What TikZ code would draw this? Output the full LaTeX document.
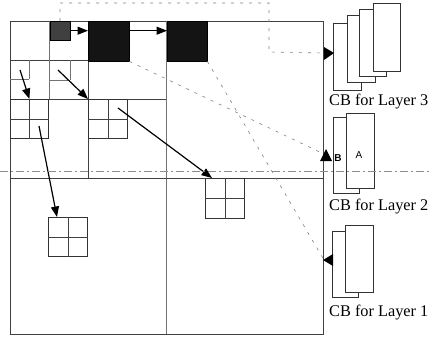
\documentclass[tikz,border=0pt]{standalone}
\usepackage{fontspec}
\setmainfont{Liberation Serif}
\newfontfamily\sansf{Liberation Sans}
\usetikzlibrary{arrows.meta,calc}
\begin{document}
\begin{tikzpicture}[x=1pt,y=-1pt,
  grid/.style={draw=black!75, line width=0.8pt},
  lightgrid/.style={draw=black!55, line width=0.7pt},
  faint/.style={draw=black!50, line width=0.6pt, dash pattern=on 3pt off 6pt},
  scanline/.style={draw=black!45, line width=0.6pt, dash pattern=on 8pt off 3pt on 2pt off 3pt},
  link/.style={draw=black, line width=1.2pt, -{Triangle[length=10.5pt,width=8pt]}},
  blk/.style={draw=black!80, line width=0.8pt, inner sep=0pt, minimum width=39pt, minimum height=39pt},
  dark/.style={fill=black!92, draw=black, inner sep=0pt},
  page/.style={draw=black!80, fill=white, line width=0.7pt},
  head/.style={fill=black, draw=none},
  lbl/.style={anchor=west, font=\fontsize{16.3}{18}\selectfont, inner sep=0pt},
  letter/.style={font=\sansf\fontsize{10}{11}\selectfont, inner sep=0pt}
]
\useasboundingbox (0,0) rectangle (431,338);

% outer frame and quadtree grid
\draw[grid] (10,21) rectangle (323,334);
\draw[lightgrid] (166,21) -- (166,334);
\draw[grid] (10,178) -- (323,178);
\draw[grid] (88,21) -- (88,178);
\draw[grid] (10,99) -- (166,99);
\draw[grid] (10,60) -- (88,60);
\draw[lightgrid] (49,21) -- (49,99);
\draw[lightgrid] (10,79) -- (29,79) (29,60) -- (29,79);
\draw[lightgrid] (49,80) -- (70,80) (70,60) -- (70,80);

% dark blocks
\node[dark, fill=black!75, minimum width=20pt, minimum height=19pt, anchor=north west] (d1) at (50,21) {};
\node[dark, minimum width=41pt, minimum height=40pt, anchor=north west] (d2) at (88,21) {};
\node[dark, minimum width=40pt, minimum height=40pt, anchor=north west] (d3) at (167,21) {};

% 2x2 child blocks
\node[blk, anchor=north west, minimum width=38pt] (b1) at (10,99) {};
\draw[grid] (b1.north) -- (b1.south) (b1.west) -- (b1.east);
\node[blk, anchor=north west] (b2) at (88,99) {};
\draw[grid] (b2.north) -- (b2.south) (b2.west) -- (b2.east);
\node[blk, anchor=north west, minimum height=40pt] (b3) at (205,178) {};
\draw[grid] (b3.north) -- (b3.south) (b3.west) -- (b3.east);
\node[blk, anchor=north west] (b4) at (48,217) {};
\draw[grid] (b4.north) -- (b4.south) (b4.west) -- (b4.east);

% arrow start points
\coordinate (s1) at (20,70);
\coordinate (s2) at (58,70);
\coordinate (s3) at (118,108);
\coordinate (s4) at (39,126);

\draw[link] (d1.east) -- (d2.west |- d1.east);
\draw[link] (d2.east |- d1.east) -- (d3.west |- d1.east);
\draw[link] (s1) -- (b1.north);
\draw[link] (s2) -- (b2.north west);
\draw[link] (s3) -- ($(b3.north west)+(7,0)$);
\draw[link] (s4) -- ($(b4.north west)+(9,0)$);

% codebook pages
\draw[page] (333,23) rectangle (361,90);
\draw[page] (347,15) rectangle (375,82);
\draw[page] (359,9) rectangle (386,76);
\draw[page] (373,3) rectangle (400,71);
\node[lbl] (t3) at (329,102) {CB for Layer 3};

\draw[page] (333,117) rectangle (359,193);
\draw[page] (346,113) rectangle (374,188);
\node[letter, font=\sansf\bfseries\fontsize{10}{11}\selectfont] (lb) at (338,158) {B};
\node[letter] (la) at (359,155) {A};
\node[lbl] (t2) at (329,207) {CB for Layer 2};

\draw[page] (332,231) rectangle (358,297);
\draw[page] (345,225) rectangle (373,292);
\node[lbl] (t1) at (329,313) {CB for Layer 1};

% scan line across the page
\draw[scanline] (0,171) -- (431,171);

% links to codebooks
\coordinate (c3) at (324,53);
\coordinate (c2) at (326,155);
\coordinate (c1) at (324,260);
\draw[faint] (60,21) -- (60,3) -- (269,3) -- (269,52) -- (c3);
\draw[faint] (d2.south east) -- (c2);
\draw[faint] (d3.south east) -- (c1);
\fill[head] (324,47) -- (334,53) -- (324,60) -- cycle;
\fill[head] (320,161) -- (326,149) -- (332,161) -- cycle;
\fill[head] (333,254) -- (323,260) -- (333,266) -- cycle;
\end{tikzpicture}
\end{document}
